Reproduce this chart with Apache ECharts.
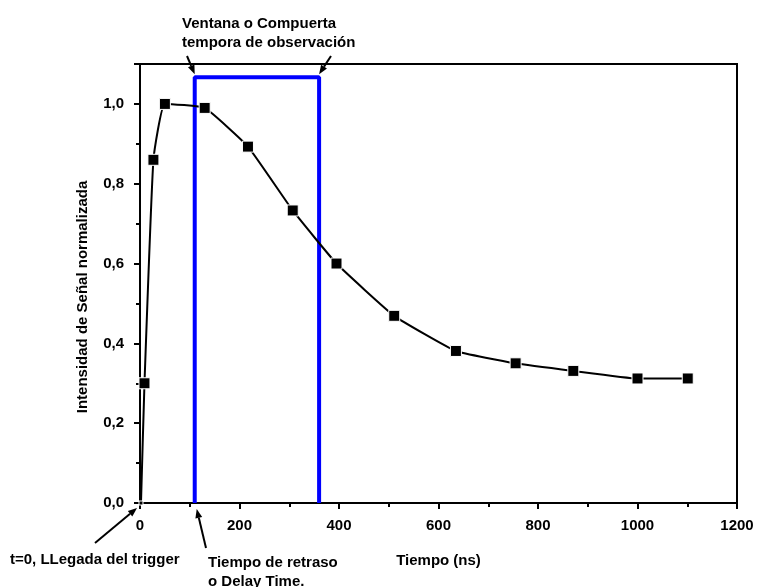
<!DOCTYPE html>
<html><head><meta charset="utf-8">
<script src="https://cdn.jsdelivr.net/npm/echarts@6/dist/echarts.min.js"></script>
<style>html,body{margin:0;padding:0;background:#fff}#c{width:759px;height:587px}</style>
</head><body><div id="c"></div>
<script>
// Data
const tiempo = [2, 9, 27, 50, 130, 217, 307, 395, 511, 635, 755, 871, 1000, 1101];
const intensidad = [0.0, 0.30, 0.86, 1.0, 0.99, 0.893, 0.733, 0.60, 0.469, 0.381, 0.35, 0.331, 0.312, 0.312];
// Observation window (gate) outline
const ventanaX = [110, 110, 360, 360];
const ventanaY = [0, 1.067, 1.067, 0];
const xTicks = [0, 200, 400, 600, 800, 1000, 1200];
const yTicks = ['0,0', '0,2', '0,4', '0,6', '0,8', '1,0'];

const FONT = "'Liberation Sans', Arial, Helvetica, sans-serif";
const chart = echarts.init(document.getElementById('c'), null, {renderer: 'canvas'});

const serie = tiempo.map((t, i) => [t, intensidad[i]]);
const ventana = ventanaX.map((t, i) => [t, ventanaY[i]]);

const labelStyle = {color: '#000', fontSize: 15, fontWeight: 'bold', fontFamily: FONT};

chart.setOption({
  animation: false,
  backgroundColor: '#fff',
  grid: {left: 140, right: 22, top: 64, bottom: 84, show: true, borderColor: '#000', borderWidth: 2, backgroundColor: 'transparent'},
  xAxis: {
    type: 'value', min: xTicks[0], max: xTicks[xTicks.length - 1], interval: 200,
    axisLine: {lineStyle: {color: '#000', width: 2}},
    axisTick: {inside: false, length: 6, lineStyle: {color: '#000', width: 2}},
    minorTick: {show: true, splitNumber: 2, length: 4, lineStyle: {color: '#000', width: 2}},
    splitLine: {show: false},
    axisLabel: Object.assign({margin: 15, formatter: v => String(v)}, labelStyle),
    name: 'Tiempo (ns)', nameLocation: 'middle', nameGap: 50,
    nameTextStyle: labelStyle
  },
  yAxis: {
    type: 'value', min: 0, max: 1.1, interval: 0.2,
    axisLine: {lineStyle: {color: '#000', width: 2}},
    axisTick: {inside: false, length: 6, lineStyle: {color: '#000', width: 2}},
    minorTick: {show: true, splitNumber: 2, length: 4, lineStyle: {color: '#000', width: 2}},
    splitLine: {show: false},
    axisLabel: Object.assign({margin: 16, showMaxLabel: false,
      formatter: v => { const k = Math.round(v / 0.2); return (k >= 0 && k < yTicks.length && Math.abs(v - k * 0.2) < 1e-6) ? yTicks[k] : ''; }}, labelStyle)
  },
  series: [
    {
      type: 'line', data: ventana, symbol: 'none', z: 2,
      lineStyle: {color: '#0000ff', width: 4}, itemStyle: {color: '#0000ff'}
    },
    {
      type: 'line', data: serie, smooth: 0.12, z: 3,
      symbol: 'rect', symbolSize: (v) => v[1] === 0 ? 4 : 11,
      lineStyle: {color: '#000', width: 2},
      itemStyle: {color: '#000', borderColor: '#fff', borderWidth: 1}
    }
  ]
});

function arrow(x1, y1, x2, y2) {
  const a = Math.atan2(y2 - y1, x2 - x1), L = 9, W = 3.5;
  const bx = x2 - L * Math.cos(a), by = y2 - L * Math.sin(a);
  const px = -Math.sin(a) * W, py = Math.cos(a) * W;
  return [
    {type: 'line', shape: {x1: x1, y1: y1, x2: bx, y2: by}, style: {stroke: '#000', lineWidth: 2}, z: 10},
    {type: 'polygon', shape: {points: [[x2, y2], [bx + px, by + py], [bx - px, by - py]]}, style: {fill: '#000'}, z: 10}
  ];
}

const p = (x, y) => chart.convertToPixel({gridIndex: 0}, [x, y]);
const tl = p(ventanaX[1], ventanaY[1]);
const tr = p(ventanaX[2], ventanaY[2]);
const o = p(0, 0);
const d = p(ventanaX[0], 0);

const textStyle = (t, x, y) => ({type: 'text', x: x, y: y, z: 10,
  style: {text: t, fill: '#000', font: 'bold 15px ' + FONT, lineHeight: 19, textVerticalAlign: 'top'}});

chart.setOption({
  graphic: [].concat(
    [textStyle('Ventana o Compuerta\ntempora de observación', 182, 14)],
    arrow(187, 56, tl[0], tl[1] - 3),
    arrow(331, 56, tr[0], tr[1] - 3),
    [textStyle('t=0, LLegada del trigger', 10, 550)],
    arrow(95, 543, o[0] - 3, o[1] + 5),
    [textStyle('Tiempo de retraso\no Delay Time.', 208, 553)],
    arrow(206, 548, d[0] + 2, d[1] + 6),
    [{type: 'text', x: 83, y: 297, rotation: Math.PI / 2, z: 10,
      style: {text: 'Intensidad de Señal normalizada', fill: '#000', font: 'bold 15px ' + FONT, textAlign: 'center', textVerticalAlign: 'middle'}}]
  )
});
</script>
</body></html>
